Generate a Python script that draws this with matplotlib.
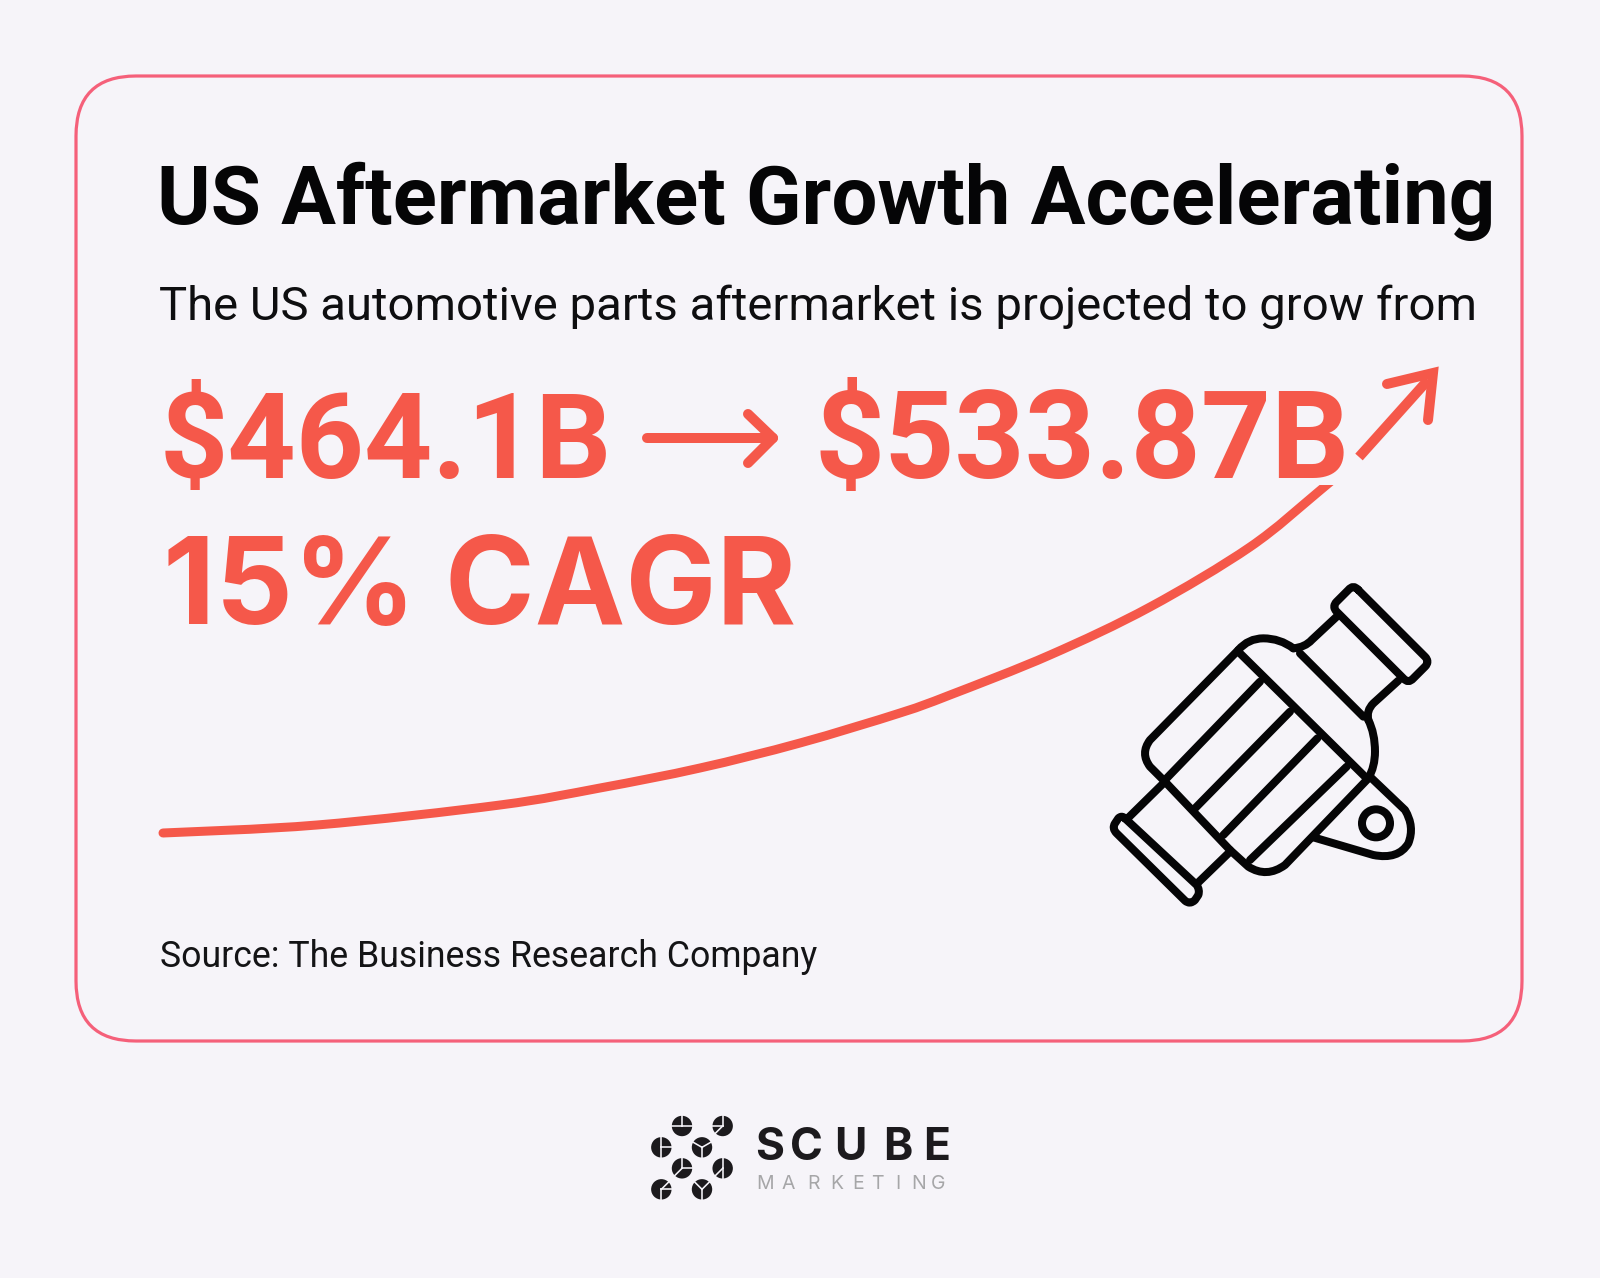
import matplotlib
matplotlib.use('Agg')
import numpy as np
import matplotlib.pyplot as plt
from matplotlib.patches import FancyBboxPatch, Circle, PathPatch, Rectangle
from matplotlib.path import Path

BG = '#F6F4F9'
RED = '#F5584A'
PINK = '#F5607A'
INK = '#050506'
FONT = 'Roboto'

title = 'US Aftermarket Growth Accelerating'
subtitle = 'The US automotive parts aftermarket is projected to grow from'
value_from = '$464.1B'
value_to = '$533.87B'
cagr = '15% CAGR'
source = 'Source: The Business Research Company'

# trend line, pixels
curve_x = [163, 317, 500, 600, 700, 800, 900, 950, 1050, 1150, 1250, 1317, 1350]
curve_y = [833, 825, 805, 788, 768, 743, 713, 695, 655, 607, 547, 493, 465]

brand_letters = ['S', 'C', 'U', 'B', 'E']
brand_x = [755, 790, 834, 883, 923]
sub_letters = ['M', 'A', 'R', 'K', 'E', 'T', 'I', 'N', 'G']
sub_x = [756, 781, 807, 830, 852, 871, 895, 911, 931]

dots_x = [156, 278, 94, 216, 156, 278, 94, 216]
dots_y = [78, 78, 142, 142, 205, 205, 268, 268]
# slit angles per dot, degrees
dots_slits = [[180, 0, 90], [225, 180, 90], [0, 90, 270], [30, 150, 270],
              [0, 225, 90], [90, 270, 225], [45, 0, 270], [45, 135, 270]]

fig = plt.figure(figsize=(16, 12.78), dpi=100, facecolor=BG)
ax = fig.add_axes([0, 0, 1, 1])
ax.set_xlim(0, 1600)
ax.set_ylim(1278, 0)
ax.axis('off')
px = 0.72  # one pixel in points

card = FancyBboxPatch((76, 76), 1446, 965, boxstyle='round,pad=0,rounding_size=60',
                      fc='none', ec=PINK, lw=3.2 * px)
ax.add_patch(card)

fig.canvas.draw()
renderer = fig.canvas.get_renderer()


def fitted(x, y, s, width, color, weight='normal', family=FONT):
    # font size is set so that the line spans the measured width
    t = ax.text(x, y, s, family=family, weight=weight, fontsize=40, color=color, va='baseline')
    w = t.get_window_extent(renderer).width
    t.set_fontsize(40 * width / w)
    return t


fitted(157, 224, title, 1337, INK, 'bold')
fitted(159, 320, subtitle, 1316, '#0E0E10')
fitted(160, 478, value_from, 452, RED, 'bold')
fitted(815, 478, value_to, 535, RED, 'bold')
fitted(163, 624, cagr, 632, RED, 'bold', 'Inter')
fitted(160, 967, source, 657, '#141416')

# arrow between the values
ax.plot([647, 773], [438, 438], color=RED, lw=10 * px, solid_capstyle='round')
ax.plot([748, 773, 748], [414, 438, 463], color=RED, lw=10 * px,
        solid_capstyle='round', solid_joinstyle='round')

# growth curve, cut flat under the value text
pts = np.column_stack([curve_x, curve_y]).astype(float)
verts = [pts[0]]
codes = [Path.MOVETO]
for i in range(len(pts) - 1):
    p0 = pts[max(i - 1, 0)]
    p1 = pts[i]
    p2 = pts[i + 1]
    p3 = pts[min(i + 2, len(pts) - 1)]
    verts += [p1 + (p2 - p0) / 6, p2 - (p3 - p1) / 6, p2]
    codes += [Path.CURVE4] * 3
growth = PathPatch(Path(verts, codes), fc='none', ec=RED, lw=9 * px, capstyle='round')
ax.add_patch(growth)
growth.set_clip_path(Rectangle((0, 485), 1600, 500, transform=ax.transData))

# growth arrow head
ax.plot([1359, 1428], [457, 380], color=RED, lw=10 * px, solid_capstyle='butt')
ax.plot([1387, 1433, 1428], [384, 373, 420], color=RED, lw=10 * px,
        solid_capstyle='round', solid_joinstyle='miter')


# part icon, points measured in a 3x crop starting at (1080, 560)
def ix(p):
    return (1080 + p[0] / 3, 560 + p[1] / 3)


def shape(moves):
    # moves: start point then ('L', p) or ('Q', c, p)
    verts = [ix(moves[0])]
    codes = [Path.MOVETO]
    for m in moves[1:]:
        if m[0] == 'L':
            verts.append(ix(m[1]))
            codes.append(Path.LINETO)
        else:
            verts += [ix(m[1]), ix(m[2])]
            codes += [Path.CURVE3, Path.CURVE3]
    ax.add_patch(PathPatch(Path(verts, codes), fc='none', ec=INK, lw=8 * px,
                           capstyle='round', joinstyle='round'))


def seg(*pts):
    shape([pts[0]] + [('L', p) for p in pts[1:]])


# top cap
shape([(835, 90), ('L', (1035, 290)), ('Q', (1050, 305), (1035, 320)), ('L', (1000, 355)),
       ('Q', (985, 372), (970, 355)), ('L', (770, 155)), ('Q', (755, 140), (770, 125)),
       ('L', (805, 90)), ('Q', (820, 72), (835, 90))])
# neck
shape([(770, 170), ('L', (695, 240)), ('Q', (675, 262), (640, 265))])
shape([(955, 362), ('L', (880, 430)), ('Q', (858, 452), (865, 480))])
# body top band
shape([(640, 265), ('Q', (600, 235), (550, 235)), ('Q', (505, 235), (475, 270))])
seg((660, 280), (850, 470))
shape([(865, 480), ('Q', (885, 520), (885, 575)), ('Q', (885, 620), (865, 655))])
seg((475, 275), (860, 655))
# body outline
shape([(475, 270), ('L', (210, 540)), ('Q', (180, 580), (210, 620)), ('L', (255, 665))])
seg((255, 665), (450, 870))
shape([(450, 870), ('L', (505, 920)), ('Q', (560, 955), (615, 915)), ('L', (865, 655))])
# stripes
seg((540, 365), (255, 660))
seg((630, 455), (345, 745))
seg((712, 535), (430, 825))
seg((800, 620), (510, 900))
# lower neck and cap
seg((250, 670), (140, 778))
seg((445, 880), (350, 972))
shape([(135, 775), ('Q', (125, 765), (115, 775)), ('L', (105, 790)), ('Q', (95, 805), (110, 820)),
       ('L', (315, 1022)), ('Q', (330, 1035), (345, 1020)), ('L', (355, 1005)), ('Q', (360, 990), (350, 975)),
       ('L', (135, 775))])
# lug
shape([(870, 650), ('L', (975, 750)), ('Q', (1005, 800), (985, 850)), ('Q', (955, 900), (880, 885)),
       ('L', (700, 832))])
cx, cy = ix((888, 790))
ax.add_patch(Circle((cx, cy), 14, fc='none', ec=INK, lw=8 * px))

# logo
for x, y, slits in zip(dots_x, dots_y, dots_slits):
    cx = 630 + x / 3
    cy = 1100 + y / 3
    ax.add_patch(Circle((cx, cy), 10.2, fc='#1C1A1D', ec='none'))
    for a in slits:
        ax.plot([cx, cx + 11 * np.cos(np.radians(a))], [cy, cy - 11 * np.sin(np.radians(a))],
                color=BG, lw=1.6 * px)

for ch, x in zip(brand_letters, brand_x):
    ax.text(x, 1160, ch, family='Inter', weight='bold', fontsize=32, color='#1C1A1D', va='baseline')
for ch, x in zip(sub_letters, sub_x):
    ax.text(x, 1189, ch, family='Inter', fontsize=14, color='#A6A6A8', va='baseline')

fig.savefig('out.png', dpi=100, facecolor=BG)
